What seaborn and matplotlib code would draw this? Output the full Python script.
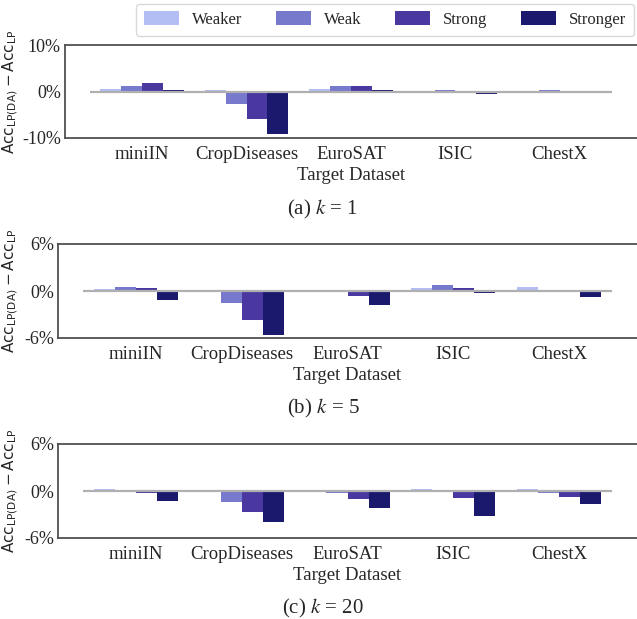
import matplotlib
matplotlib.use("Agg")
import matplotlib.pyplot as plt
import seaborn as sns
import pandas as pd

# Target datasets and augmentation strengths
datasets = ["miniIN", "CropDiseases", "EuroSAT", "ISIC", "ChestX"]
strengths = ["Weaker", "Weak", "Strong", "Stronger"]
colors = ["#b3bff4", "#7779cc", "#4a37a0", "#1b196e"]

# Accuracy difference (%) per dataset, one list per strength
k1_weaker = [0.5, 0.3, 0.5, 0.05, -0.2]
k1_weak = [1.1, -2.7, 1.1, 0.3, 0.3]
k1_strong = [1.8, -6.0, 1.1, -0.1, -0.1]
k1_stronger = [0.3, -9.2, 0.3, -0.45, -0.3]

k5_weaker = [0.3, 0.15, 0.15, 0.4, 0.55]
k5_weak = [0.55, -1.5, 0.15, 0.8, 0.15]
k5_strong = [0.4, -3.65, -0.6, 0.4, -0.15]
k5_stronger = [-1.1, -5.6, -1.75, -0.3, -0.8]

k20_weaker = [0.3, 0.05, 0.15, 0.3, 0.3]
k20_weak = [0.15, -1.35, -0.3, 0.15, -0.2]
k20_strong = [-0.3, -2.7, -1.05, -0.95, -0.8]
k20_stronger = [-1.3, -4.0, -2.2, -3.25, -1.7]

panels = [
    ("(a) $k$ = 1", [k1_weaker, k1_weak, k1_strong, k1_stronger], 10, ["10%", "0%", "-10%"]),
    ("(b) $k$ = 5", [k5_weaker, k5_weak, k5_strong, k5_stronger], 6, ["6%", "0%", "-6%"]),
    ("(c) $k$ = 20", [k20_weaker, k20_weak, k20_strong, k20_stronger], 6, ["6%", "0%", "-6%"]),
]

sns.set_style("white")
plt.rcParams["font.family"] = ["Liberation Serif", "DejaVu Serif"]

W, H = 637, 619
fig = plt.figure(figsize=(W / 100, H / 100), dpi=100)

# axes boxes in pixels: (left, top, bottom)
boxes = [(65, 45, 138), (58, 244, 338), (58, 444, 538)]
caption_y = [209, 408, 608]

spine_color = "#505050"
handles = None
for (caption, series, lim, ylabels), (left, top, bottom), cy in zip(panels, boxes, caption_y):
    ax = fig.add_axes([left / W, 1 - bottom / H, (W - left) / W, (bottom - top) / H])
    df = pd.DataFrame({
        "Dataset": datasets * len(strengths),
        "Strength": [s for s in strengths for _ in datasets],
        "Value": [v for vals in series for v in vals],
    })
    sns.barplot(data=df, x="Dataset", y="Value", hue="Strength",
                order=datasets, hue_order=strengths, palette=colors,
                saturation=1, linewidth=0, errorbar=None, ax=ax, zorder=2)
    ax.hlines(0, -0.5, 4.5, color="#b0b0b0", lw=1.6, zorder=3)
    ax.set_xlim(-0.74, 4.74)
    ax.set_ylim(-lim, lim)
    ax.set_yticks([lim, 0, -lim])
    ax.set_yticklabels(ylabels, fontsize=13)
    ax.tick_params(axis="x", labelsize=13.5, length=3, width=1, color=spine_color, pad=3)
    ax.tick_params(axis="y", length=2, width=1, color=spine_color, pad=1)
    for name in ["left", "top", "bottom"]:
        ax.spines[name].set_visible(True)
        ax.spines[name].set_color(spine_color)
        ax.spines[name].set_linewidth(1.3)
    ax.spines["right"].set_visible(False)

    ax.set_xlabel("Target Dataset", fontsize=13.5)
    ax.xaxis.set_label_coords((left + W) / 2 / W, 1 - (bottom + 29) / H,
                              transform=fig.transFigure)
    ax.set_ylabel(r"$\mathsf{Acc}_{\mathsf{LP(DA)}} - \mathsf{Acc}_{\mathsf{LP}}$",
                  fontsize=11, math_fontfamily="dejavusans")
    ax.yaxis.set_label_coords(20 / W, 1 - (top + bottom) / 2 / H,
                              transform=fig.transFigure)

    if handles is None:
        handles, labels = ax.get_legend_handles_labels()
    ax.get_legend().remove()

    fig.text(323 / W, 1 - cy / H, caption, ha="center", va="center",
             fontsize=15, math_fontfamily="stix")

leg = fig.legend(handles, strengths, loc="upper right", ncol=4,
                 bbox_to_anchor=(634 / W, 1 - 4 / H), borderaxespad=0,
                 fontsize=12, frameon=True, fancybox=True,
                 handlelength=2.1, handleheight=0.9, handletextpad=0.8,
                 columnspacing=2.0, borderpad=0.45)
leg.get_frame().set_edgecolor("#d0d0d0")
leg.get_frame().set_linewidth(1.0)

fig.savefig("out.png", dpi=100)
